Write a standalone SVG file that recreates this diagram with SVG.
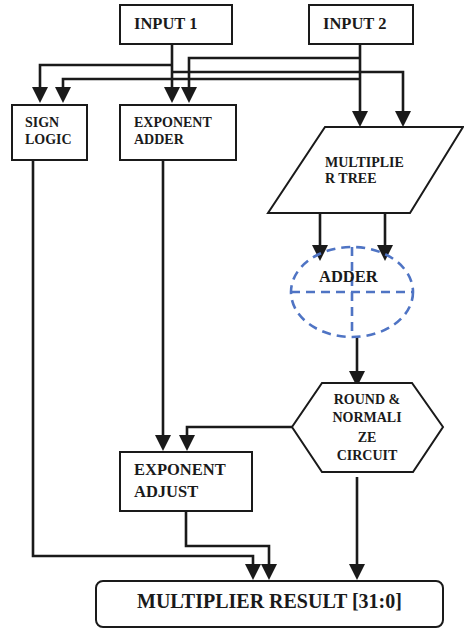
<svg xmlns="http://www.w3.org/2000/svg" width="464" height="628" viewBox="0 0 464 628">
  <style>
    .box { fill: #ffffff; stroke: #1a1a1a; stroke-width: 2; }
    .wire { fill: none; stroke: #1a1a1a; stroke-width: 2.6; marker-end: url(#arrow); }
    .plain { fill: none; stroke: #1a1a1a; stroke-width: 2.6; }
    .dash { fill: none; stroke: #4f74c4; stroke-width: 2.6; stroke-dasharray: 9 6; }
    text { font-family: "Liberation Serif", "Times New Roman", serif; font-weight: bold; fill: #1a1a1a; }
    .s { font-size: 14px; }
    .m { font-size: 16.5px; }
    .l { font-size: 20px; }
    .c { text-anchor: middle; }
  </style>
  <defs>
    <marker id="arrow" markerUnits="userSpaceOnUse" markerWidth="16" markerHeight="16" viewBox="0 0 16 16" refX="0" refY="8" orient="auto">
      <path d="M0,0 L16,8 L0,16 z" fill="#1a1a1a"/>
    </marker>
  </defs>

  <!-- connectors -->
  <g id="connectors">
    <path class="wire" d="M172,44 V87"/>
    <path class="wire" d="M172,65 H40 V87"/>
    <path class="wire" d="M172,72 H403 V111"/>
    <path class="wire" d="M360,58 H189 V87"/>
    <path class="wire" d="M360,79 H63 V87"/>
    <path class="wire" d="M360,44 V111"/>
    <path class="wire" d="M320,213 V245"/>
    <path class="wire" d="M385,213 V245"/>
    <path class="wire" d="M357,337 V371"/>
    <path class="wire" d="M292,427 H187 V435"/>
    <path class="wire" d="M163,160 V435"/>
    <path class="wire" d="M33,160 V556 H253 V564"/>
    <path class="wire" d="M186,511 V546 H269 V564"/>
    <path class="wire" d="M357,477 V564"/>
  </g>

  <g id="input1">
    <rect class="box" x="120" y="5" width="112" height="39"/>
    <text class="m" x="134" y="29">INPUT 1</text>
  </g>

  <g id="input2">
    <rect class="box" x="309" y="5" width="104" height="39"/>
    <text class="m" x="323" y="29">INPUT 2</text>
  </g>

  <g id="sign-logic">
    <rect class="box" x="12" y="105" width="75" height="55"/>
    <text class="s" x="25" y="127">SIGN</text>
    <text class="s" x="25" y="144">LOGIC</text>
  </g>

  <g id="exponent-adder">
    <rect class="box" x="120" y="105" width="116" height="55"/>
    <text class="s" x="134" y="127">EXPONENT</text>
    <text class="s" x="134" y="144">ADDER</text>
  </g>

  <g id="multiplier-tree">
    <polygon class="box" points="325,127 463,127 410,213 268,213"/>
    <text class="s" x="325" y="167">MULTIPLIE</text>
    <text class="s" x="325" y="183">R TREE</text>
  </g>

  <g id="adder">
    <ellipse class="dash" cx="352" cy="292" rx="61" ry="45"/>
    <path class="dash" d="M291,292 H413 M352,247 V337"/>
    <text class="m" x="319" y="282">ADDER</text>
  </g>

  <g id="round-normalize">
    <polygon class="box" points="322,383 412,383 443,427 413,472 322,472 292,427"/>
    <text class="s c" x="367" y="404">ROUND &amp;</text>
    <text class="s c" x="367" y="422">NORMALI</text>
    <text class="s c" x="367" y="442">ZE</text>
    <text class="s c" x="367" y="460">CIRCUIT</text>
  </g>

  <g id="exponent-adjust">
    <rect class="box" x="120" y="452" width="132" height="59"/>
    <text class="m" x="134" y="475">EXPONENT</text>
    <text class="m" x="134" y="497">ADJUST</text>
  </g>

  <g id="result">
    <rect class="box" x="96" y="581" width="347" height="46" rx="7"/>
    <text class="l" x="137" y="608">MULTIPLIER RESULT [31:0]</text>
  </g>
</svg>
